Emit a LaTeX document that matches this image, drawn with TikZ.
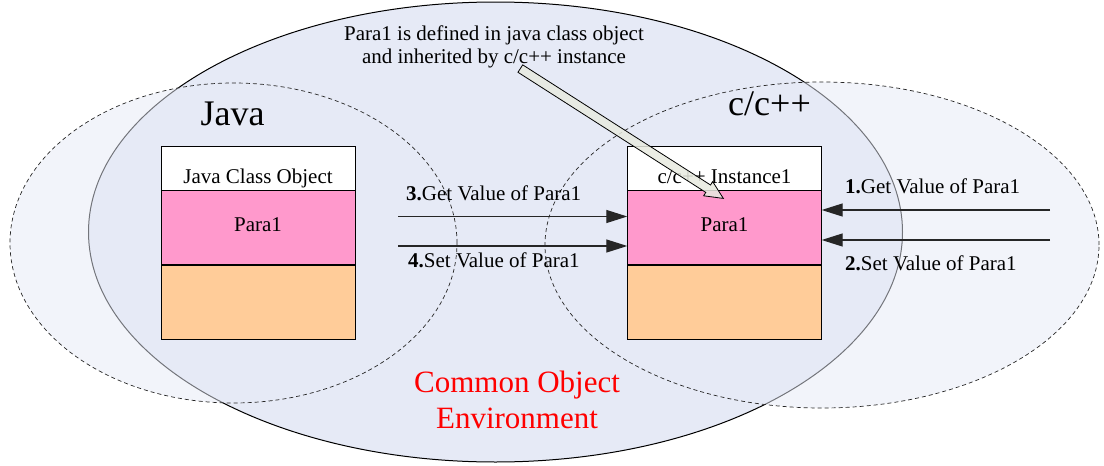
\documentclass[tikz,border=0pt]{standalone}
\usepackage{fontspec}
\setmainfont{LiberationSerif}[Extension=.ttf, UprightFont=*-Regular, BoldFont=*-Bold, ItalicFont=*-Italic]
\usetikzlibrary{positioning,arrows.meta,shapes.arrows,calc}
\definecolor{envblue}{RGB}{230,234,246}
\definecolor{parapink}{RGB}{255,153,204}
\definecolor{restorange}{RGB}{255,204,153}
\definecolor{hintfill}{RGB}{232,235,224}
\tikzstyle{envell}=[draw=black, fill=envblue, line width=1pt]
\tikzstyle{langell}=[draw=black!85, dash pattern=on 4pt off 3pt, fill=envblue, fill opacity=0.5, line width=0.7pt]
\tikzstyle{headbox}=[rectangle, draw=black, fill=white, minimum width=194pt, minimum height=44pt, inner sep=0pt, text height=30pt, text depth=0pt, font=\fontsize{21}{24}\selectfont]
\tikzstyle{parabox}=[rectangle, draw=black, fill=parapink, minimum width=194pt, minimum height=74pt, inner sep=0pt, text depth=6pt, font=\fontsize{21}{24}\selectfont]
\tikzstyle{restbox}=[rectangle, draw=black, fill=restorange, minimum width=194pt, minimum height=74pt, inner sep=0pt]
\tikzstyle{valline}=[-{Triangle[length=21pt,width=13pt]}, line width=1.2pt, black!85]
\tikzstyle{lbl}=[anchor=base west, inner sep=0pt, font=\fontsize{21}{24}\selectfont]
\tikzstyle{titletext}=[anchor=base, inner sep=0pt, font=\fontsize{36}{40}\selectfont]
\tikzstyle{hintarrow}=[single arrow, draw=black, fill=hintfill, fill opacity=0.85, inner xsep=0pt, inner ysep=4pt, single arrow head extend=4pt, single arrow tip angle=50, line width=0.8pt]
\newcommand\objnode[4][]{
            \node (#2) [headbox, #1] {#3};
            \node (#2p) [parabox, below=0pt of #2] {#4};
            \node (#2r) [restbox, below=0pt of #2p] {};
        }

\begin{document}
\begin{tikzpicture}[x=1pt,y=-1pt]
    \useasboundingbox (0,0) rectangle (1104,466);

% environments
    \draw[envell] (495.5,232) ellipse [x radius=407pt, y radius=230pt];
    \draw[langell] (233.5,243) ellipse [x radius=223.5pt, y radius=160pt];
    \draw[langell] (822,245) ellipse [x radius=277pt, y radius=163pt];

    \node (javat) [titletext] at (232.5,125) {Java};
    \node (cppt) [titletext] at (769.5,115) {c/c++};

% objects
    \objnode[at={(258,168)}]{javaobj}{Java Class Object}{Para1}
    \objnode[at={(724.5,168)}]{cinst}{c/c++ Instance1}{Para1}

    \node (coe) [align=center, text=red, inner sep=0pt, font=\fontsize{31}{36}\selectfont] at (517,400) {Common Object\\Environment};
    \node (note) [align=center, inner sep=0pt, font=\fontsize{21}{23}\selectfont] at (494,47) {Para1 is defined in java class object\\and inherited by c/c++ instance};

% value access
    \coordinate (get3) at (398,216.5);
    \coordinate (set4) at (398,246);
    \coordinate (get1) at (1050,210);
    \coordinate (set2) at (1050,240);
    \draw[valline] (get3) -- (get3 -| cinstp.west);
    \draw[valline] (set4) -- (set4 -| cinstp.west);
    \draw[valline] (get1) -- (get1 -| cinstp.east);
    \draw[valline] (set2) -- (set2 -| cinstp.east);

    \node (l3) [lbl] at (406,200) {\textbf{3.}Get Value of Para1};
    \node (l4) [lbl] at (408,267) {\textbf{4.}Set Value of Para1};
    \node (l1) [lbl] at (845,193) {\textbf{1.}Get Value of Para1};
    \node (l2) [lbl] at (845,270) {\textbf{2.}Set Value of Para1};

% inheritance hint
    \coordinate (tail) at ($(note.south)+(26,0)$);
    \coordinate (tip) at ($(cinstp.north)+(-1.5,8)$);
    \path let \p1=($(tip)-(tail)$), \n1={atan2(\y1,\x1)}, \n2={veclen(\x1,\y1)} in
        node (hint) [hintarrow, anchor=tail, rotate=\n1, minimum height=\n2] at (tail) {};

\end{tikzpicture}
\end{document}
